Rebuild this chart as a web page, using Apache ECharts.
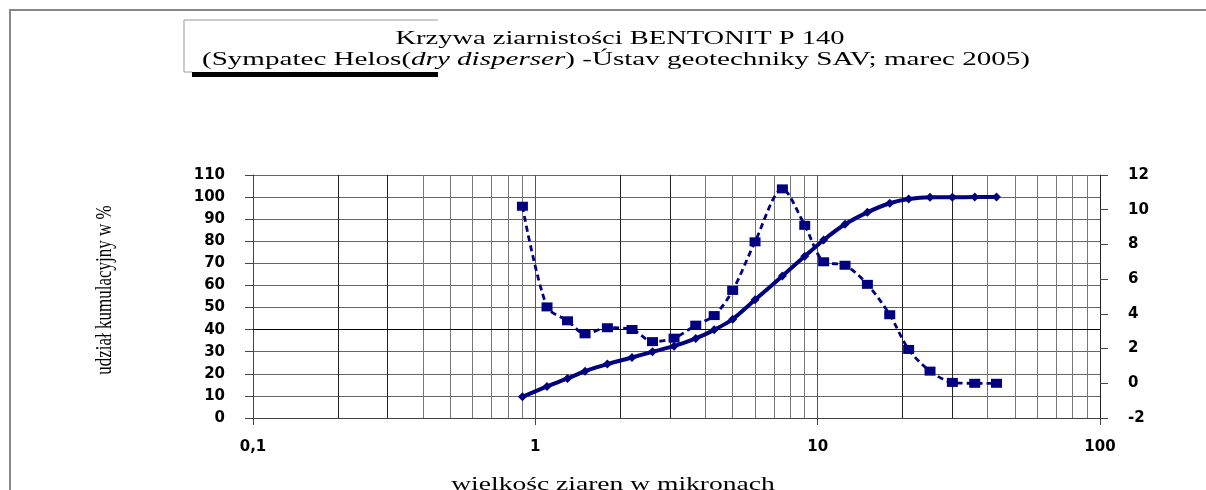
<!DOCTYPE html>
<html>
<head>
<meta charset="utf-8">
<script src="https://cdn.jsdelivr.net/npm/echarts@6/dist/echarts.min.js"></script>
<style>
  html, body { margin: 0; padding: 0; background: #fff; }
  #chart { width: 1206px; height: 490px; }
</style>
</head>
<body>
<div id="chart"></div>
<script>
  // klasy wielkości ziaren (Helos), mikrony
  var sizes = [0.9, 1.1, 1.3, 1.5, 1.8, 2.2, 2.6, 3.1, 3.7, 4.3, 5.0, 6.0, 7.5, 9.0, 10.5, 12.5, 15, 18, 21, 25, 30, 36, 43];
  // udział kumulacyjny w % (lewa oś)
  var cumulative = [9.6, 14.3, 17.9, 21.2, 24.4, 27.4, 30.0, 32.5, 36.0, 39.9, 44.7, 53.5, 64.3, 73.2, 80.6, 87.7, 93.1, 97.2, 99.1, 99.9, 99.9, 100, 100];
  // rozkład (prawa oś)
  var density = [10.2, 4.4, 3.6, 2.85, 3.2, 3.1, 2.4, 2.6, 3.35, 3.9, 5.35, 8.15, 11.2, 9.1, 7.0, 6.8, 5.7, 3.95, 1.95, 0.7, 0.05, 0.0, 0.0];
  // linie pomocnicze siatki logarytmicznej
  var minorGridX = [0.2, 0.3, 0.4, 0.5, 0.6, 0.7, 0.8, 0.9, 2, 3, 4, 5, 6, 7, 8, 9, 20, 30, 40, 50, 60, 70, 80, 90];
  var darkGridX = [0.2, 0.3, 2, 3, 20, 30];

  var navy = '#000080';
  var labelFont = { fontFamily: 'DejaVu Sans', fontWeight: 'bold', fontSize: 15, color: '#000' };

  var chart = echarts.init(document.getElementById('chart'));

  var option = {
    backgroundColor: '#fff',
    animation: false,
    grid: { left: 253, right: 106, top: 175, bottom: 72 },
    xAxis: {
      type: 'log',
      logBase: 10,
      min: 0.1,
      max: 100,
      axisLine: { lineStyle: { color: '#444', width: 1 } },
      axisTick: { show: true, length: 7, lineStyle: { color: '#444' } },
      splitLine: { show: true, lineStyle: { color: '#555', width: 1 } },
      axisLabel: Object.assign({
        margin: 22,
        formatter: function (v) { return String(v).replace('.', ','); }
      }, labelFont)
    },
    yAxis: [{
      type: 'value',
      min: 0,
      max: 110,
      interval: 10,
      axisLine: { show: true, lineStyle: { color: '#444' } },
      axisTick: { show: true, length: 8, lineStyle: { color: '#444' } },
      splitLine: { show: true, lineStyle: { color: '#666', width: 1 } },
      axisLabel: Object.assign({ margin: 28 }, labelFont)
    }, {
      type: 'value',
      min: -2,
      max: 12,
      interval: 2,
      position: 'right',
      axisLine: { show: true, lineStyle: { color: '#222' } },
      axisTick: { show: true, length: 8, lineStyle: { color: '#444' } },
      splitLine: { show: false },
      axisLabel: Object.assign({ margin: 28 }, labelFont)
    }],
    series: [{
      name: 'udział kumulacyjny',
      type: 'line',
      yAxisIndex: 0,
      data: sizes.map(function (s, i) { return [s, cumulative[i]]; }),
      smooth: 0.2,
      symbol: 'diamond',
      symbolSize: 9,
      lineStyle: { color: navy, width: 4 },
      itemStyle: { color: navy },
      z: 3,
      markLine: {
        silent: true,
        symbol: 'none',
        label: { show: false },
        animation: false,
        data: minorGridX.map(function (v) {
          var dark = darkGridX.indexOf(v) >= 0;
          return { xAxis: v, lineStyle: { color: dark ? '#222' : '#777', width: 1, type: 'solid' } };
        }).concat([{ yAxis: 40, lineStyle: { color: '#000', width: 1, type: 'solid' } }]),
        z: 1
      }
    }, {
      name: 'rozkład',
      type: 'line',
      yAxisIndex: 1,
      data: sizes.map(function (s, i) { return [s, density[i]]; }),
      smooth: 0.3,
      symbol: 'rect',
      symbolSize: [11, 9],
      lineStyle: { color: navy, width: 2.8, type: [6, 4] },
      itemStyle: { color: navy },
      z: 4
    }],
    graphic: [
      // ramka obszaru wykresu
      { type: 'polyline', shape: { points: [[10, 490], [10, 10], [1206, 10]] }, style: { stroke: '#888', lineWidth: 2, fill: null } },
      // ramka tytułu
      { type: 'polyline', shape: { points: [[438, 20], [184, 20], [184, 72], [192, 72]] }, style: { stroke: '#999', lineWidth: 1, fill: null } },
      { type: 'rect', shape: { x: 192, y: 72, width: 246, height: 5 }, style: { fill: '#000' } },
      {
        type: 'text', x: 620, y: 39, scaleX: 1.5,
        style: { text: 'Krzywa ziarnistości BENTONIT P 140', font: '19px "Liberation Serif"', fill: '#000', textAlign: 'center', textVerticalAlign: 'middle' }
      },
      {
        type: 'text', x: 616, y: 60, scaleX: 1.53,
        style: {
          text: '{n|(Sympatec Helos(}{i|dry disperser}{n|) -Ústav geotechniky SAV; marec 2005)}',
          fill: '#000', textAlign: 'center', textVerticalAlign: 'middle',
          rich: {
            n: { fontFamily: 'Liberation Serif', fontSize: 19, color: '#000' },
            i: { fontFamily: 'Liberation Serif', fontSize: 19, fontStyle: 'italic', color: '#000' }
          }
        }
      },
      {
        type: 'text', x: 105, y: 290, rotation: Math.PI / 2, scaleY: 1.4,
        style: { text: 'udział kumulacyjny w %', font: '17px "Liberation Serif"', fill: '#000', textAlign: 'center', textVerticalAlign: 'middle' }
      },
      {
        type: 'text', x: 613, y: 476, scaleX: 1.45,
        style: { text: 'wielkośc ziaren w mikronach', font: '19px "Liberation Serif"', fill: '#000', textAlign: 'center', textVerticalAlign: 'top' }
      }
    ]
  };

  chart.setOption(option);
</script>
</body>
</html>
